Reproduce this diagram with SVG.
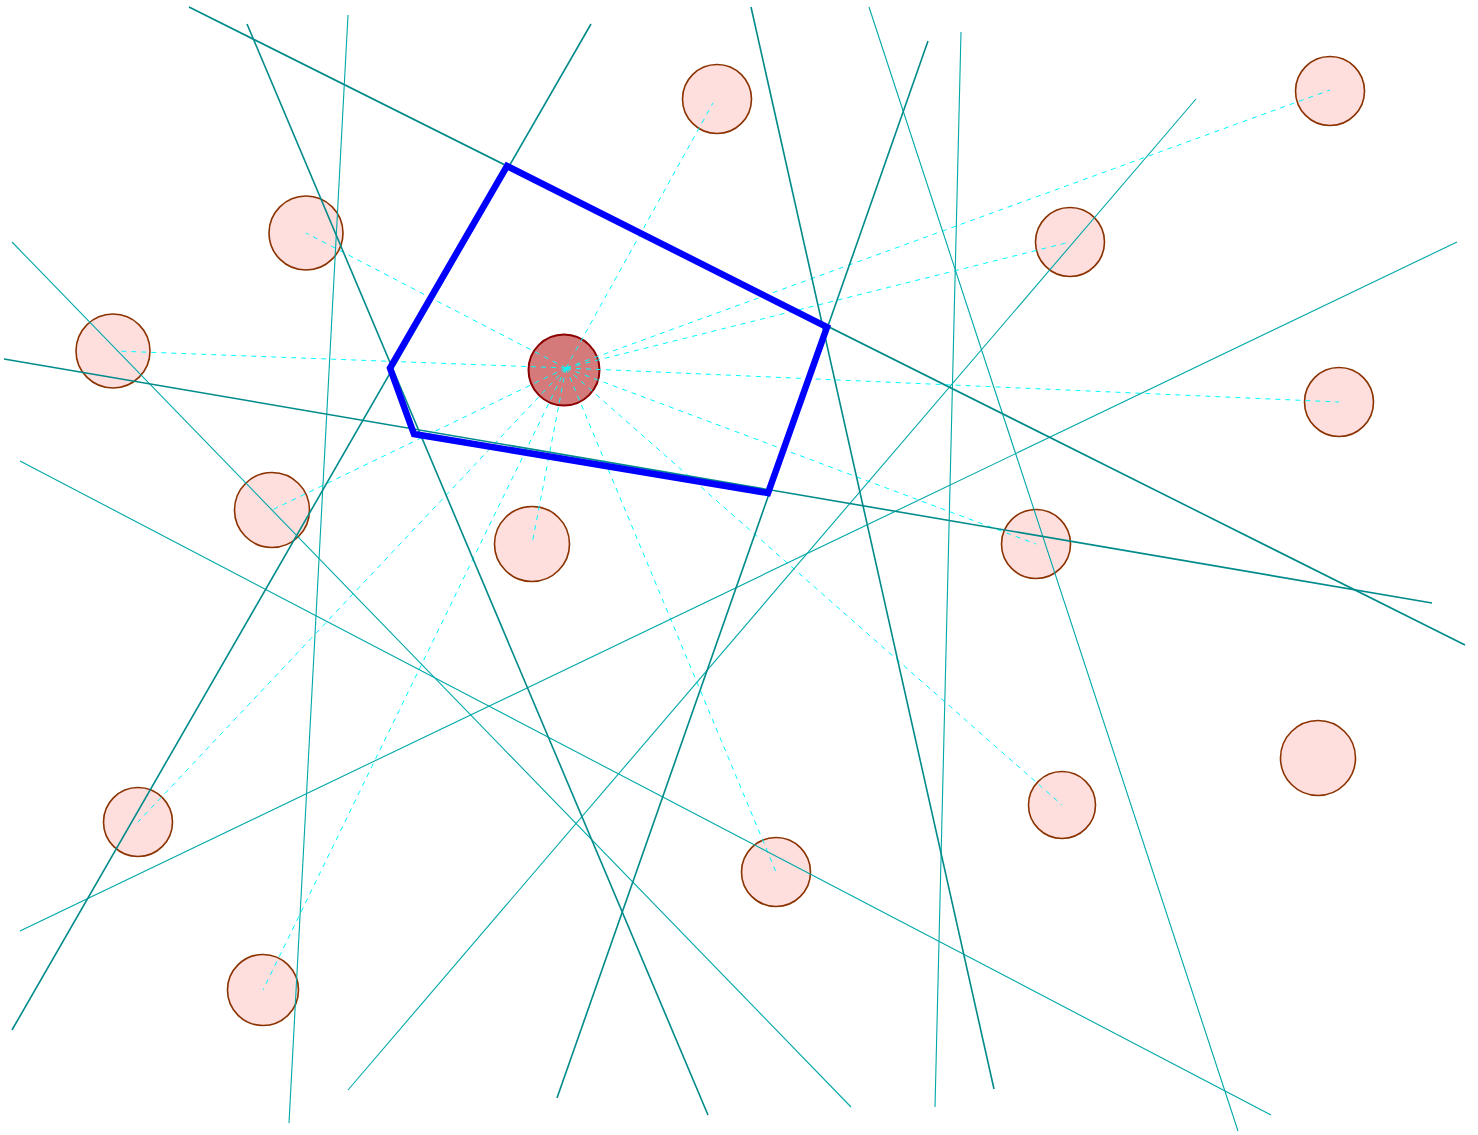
<svg xmlns="http://www.w3.org/2000/svg" width="1478" height="1135" viewBox="0 0 1478 1135">
<style>
.site{fill:#ffdede;stroke:#8b3300;stroke-width:1.6}
.focus{fill:#d47a7a;stroke:#8b0000;stroke-width:2}
.dk{stroke:#008b8b;stroke-width:1.6;fill:none}
.lt{stroke:#00a8a8;stroke-width:1.1;fill:none}
.ds{stroke:#00ffff;stroke-width:1;stroke-dasharray:5,5;fill:none}
.cell{stroke:#0000ff;stroke-width:6.5;fill:none;stroke-linejoin:miter}
</style>
<rect width="1478" height="1135" fill="#ffffff"/>
<g id="sites">
<g id="s1"><circle class="site" cx="717" cy="99" r="34.5"/></g>
<g id="s2"><circle class="site" cx="1330" cy="91" r="34.5"/></g>
<g id="s3"><circle class="site" cx="306" cy="233" r="37"/></g>
<g id="s4"><circle class="site" cx="1070" cy="242" r="34.5"/></g>
<g id="s5"><circle class="site" cx="113" cy="351" r="37"/></g>
<g id="s6"><circle class="site" cx="1339" cy="402" r="34.5"/></g>
<g id="s7"><circle class="site" cx="272" cy="510" r="37.5"/></g>
<g id="s8"><circle class="site" cx="532" cy="544" r="37.5"/></g>
<g id="s9"><circle class="site" cx="1036" cy="544" r="34.5"/></g>
<g id="s10"><circle class="site" cx="1318" cy="758" r="37.5"/></g>
<g id="s11"><circle class="site" cx="138" cy="822" r="34.5"/></g>
<g id="s12"><circle class="site" cx="1062" cy="805" r="33.5"/></g>
<g id="s13"><circle class="site" cx="776" cy="872" r="34.5"/></g>
<g id="s14"><circle class="site" cx="263" cy="990" r="35.5"/></g>
<g id="focus"><circle class="focus" cx="564" cy="370" r="35.5"/></g>
</g>
<g id="connectors">
<g id="dashes">
<line class="ds" x1="566" y1="368" x2="713" y2="103"/>
<line class="ds" x1="566" y1="368" x2="1330" y2="90"/>
<line class="ds" x1="566" y1="368" x2="306" y2="233"/>
<line class="ds" x1="566" y1="368" x2="1070" y2="242"/>
<line class="ds" x1="566" y1="368" x2="116" y2="351"/>
<line class="ds" x1="566" y1="368" x2="1339" y2="402"/>
<line class="ds" x1="566" y1="368" x2="272" y2="510"/>
<line class="ds" x1="566" y1="368" x2="532" y2="544"/>
<line class="ds" x1="566" y1="368" x2="1036" y2="544"/>
<line class="ds" x1="566" y1="368" x2="138" y2="822"/>
<line class="ds" x1="566" y1="368" x2="1062" y2="805"/>
<line class="ds" x1="566" y1="368" x2="776" y2="872"/>
<line class="ds" x1="566" y1="368" x2="263" y2="990"/>
</g>
<g id="bisectors">
<line class="lt" x1="869" y1="7" x2="1238" y2="1131"/>
<line class="lt" x1="961" y1="32" x2="935" y2="1107"/>
<line class="lt" x1="348" y1="15" x2="289" y2="1123"/>
<line class="lt" x1="1196" y1="99" x2="348" y2="1090"/>
<line class="lt" x1="1457" y1="242" x2="20" y2="931"/>
<line class="lt" x1="12" y1="242" x2="851" y2="1107"/>
<line class="lt" x1="20" y1="461" x2="1271" y2="1115"/>
<line class="dk" x1="189" y1="7" x2="1465" y2="645"/>
<line class="dk" x1="591" y1="24" x2="12" y2="1030"/>
<line class="dk" x1="4" y1="359" x2="1432" y2="603"/>
<line class="dk" x1="247" y1="24" x2="708" y2="1115"/>
<line class="dk" x1="928" y1="41" x2="557" y2="1098"/>
<line class="dk" x1="751" y1="7" x2="994" y2="1089"/>
</g>
<g id="cell"><polygon class="cell" points="507,166 827,327 768,493 414,434 390,368"/></g>
</g>
</svg>
